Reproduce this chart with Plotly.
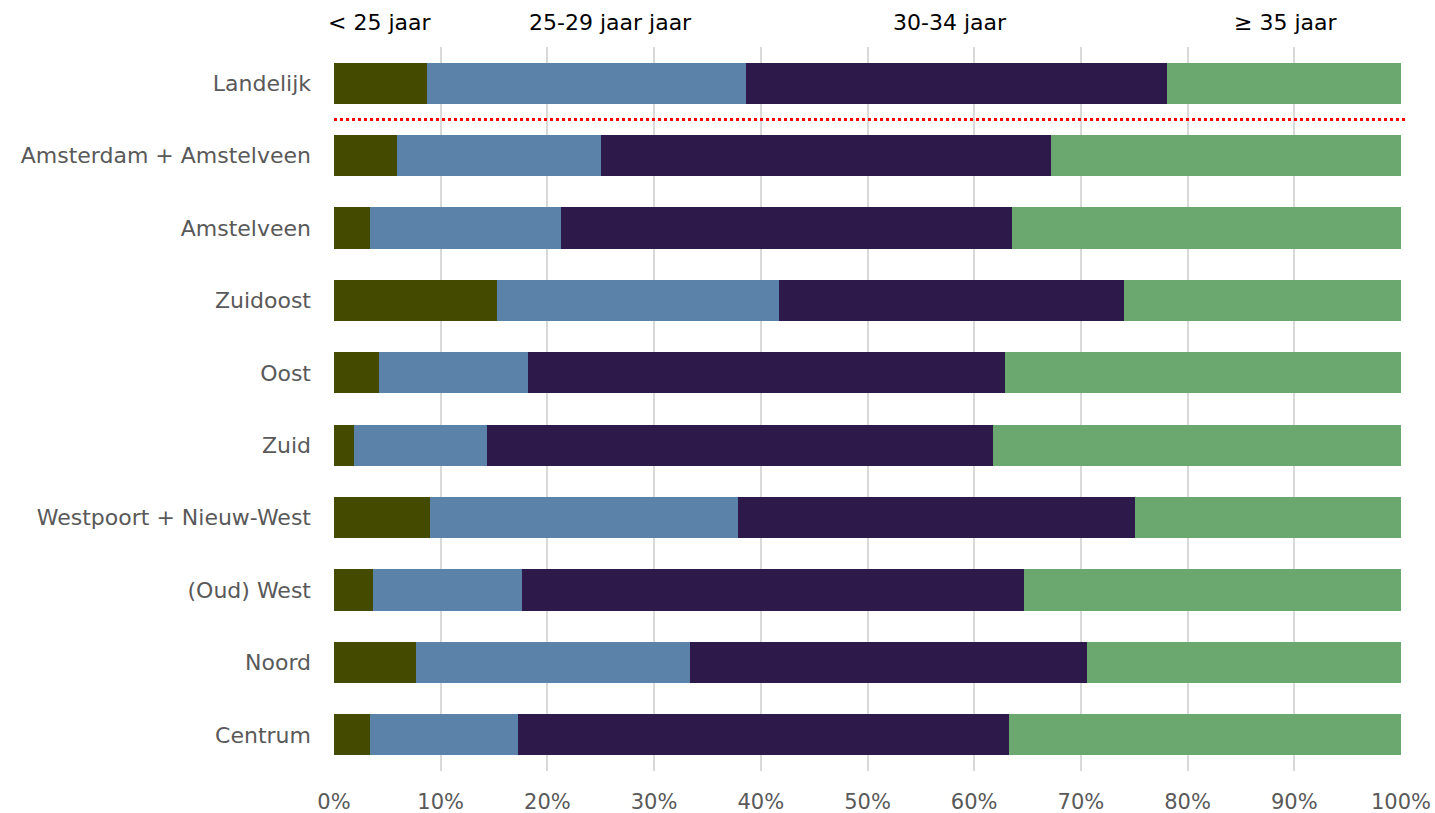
import plotly.graph_objects as go

# Regions, top to bottom
regions = [
    "Landelijk",
    "Amsterdam + Amstelveen",
    "Amstelveen",
    "Zuidoost",
    "Oost",
    "Zuid",
    "Westpoort + Nieuw-West",
    "(Oud) West",
    "Noord",
    "Centrum",
]

# Share of each age group per region (%)
under_25 = [8.7, 5.9, 3.4, 15.3, 4.2, 1.9, 9.0, 3.7, 7.7, 3.4]
age_25_29 = [29.9, 19.1, 17.9, 26.4, 14.0, 12.4, 28.9, 13.9, 25.7, 13.8]
age_30_34 = [39.5, 42.2, 42.2, 32.3, 44.7, 47.5, 37.2, 47.1, 37.2, 46.1]
age_35_plus = [21.9, 32.8, 36.5, 26.0, 37.1, 38.2, 24.9, 35.3, 29.4, 36.7]

series = [
    ("< 25 jaar", under_25, "#444B00"),
    ("25-29 jaar jaar", age_25_29, "#5B83A9"),
    ("30-34 jaar", age_30_34, "#2D1A4B"),
    ("≥ 35 jaar", age_35_plus, "#6AA86F"),
]

# Header label positions along the x axis (%)
header_x = [4.3, 25.9, 57.7, 89.2]

FONT = "DejaVu Sans"

fig = go.Figure()
for name, vals, color in series:
    fig.add_trace(go.Bar(
        y=regions,
        x=vals,
        name=name,
        orientation="h",
        marker=dict(color=color, line=dict(width=0)),
        width=0.57,
        hoverinfo="x+y+name",
    ))

for (name, _, _), hx in zip(series, header_x):
    fig.add_annotation(
        x=hx, y=1.034, xref="x", yref="paper",
        text=name, showarrow=False,
        xanchor="center", yanchor="middle",
        font=dict(family=FONT, size=22, color="#000000"),
    )

# Dotted separator between the national figure and the regions
fig.add_shape(
    type="line", xref="paper", yref="y",
    x0=0, x1=1.004, y0=0.5, y1=0.5,
    line=dict(color="#FF0000", width=3, dash="dot"),
)

fig.update_layout(
    barmode="stack",
    width=1435,
    height=813,
    margin=dict(l=334, r=34, t=47, b=42),
    paper_bgcolor="white",
    plot_bgcolor="white",
    showlegend=False,
    bargap=0.43,
    font=dict(family=FONT, size=21, color="#595959"),
)

fig.update_xaxes(
    range=[0, 100],
    tickvals=[0, 10, 20, 30, 40, 50, 60, 70, 80, 90, 100],
    ticktext=[f"{v}%" for v in range(0, 101, 10)],
    showgrid=True,
    gridcolor="#D9D9D9",
    gridwidth=2,
    zeroline=False,
    showline=False,
    ticks="",
    ticklabelstandoff=16,
    ticklabeloverflow="allow",
    automargin=False,
    tickfont=dict(family=FONT, size=21, color="#595959"),
    fixedrange=True,
)

fig.update_yaxes(
    categoryorder="array",
    categoryarray=regions,
    autorange="reversed",
    showgrid=False,
    zeroline=False,
    showline=False,
    ticks="",
    ticklabelstandoff=22,
    automargin=False,
    tickfont=dict(family=FONT, size=22, color="#595959"),
    fixedrange=True,
)

fig.write_html("out.html")
